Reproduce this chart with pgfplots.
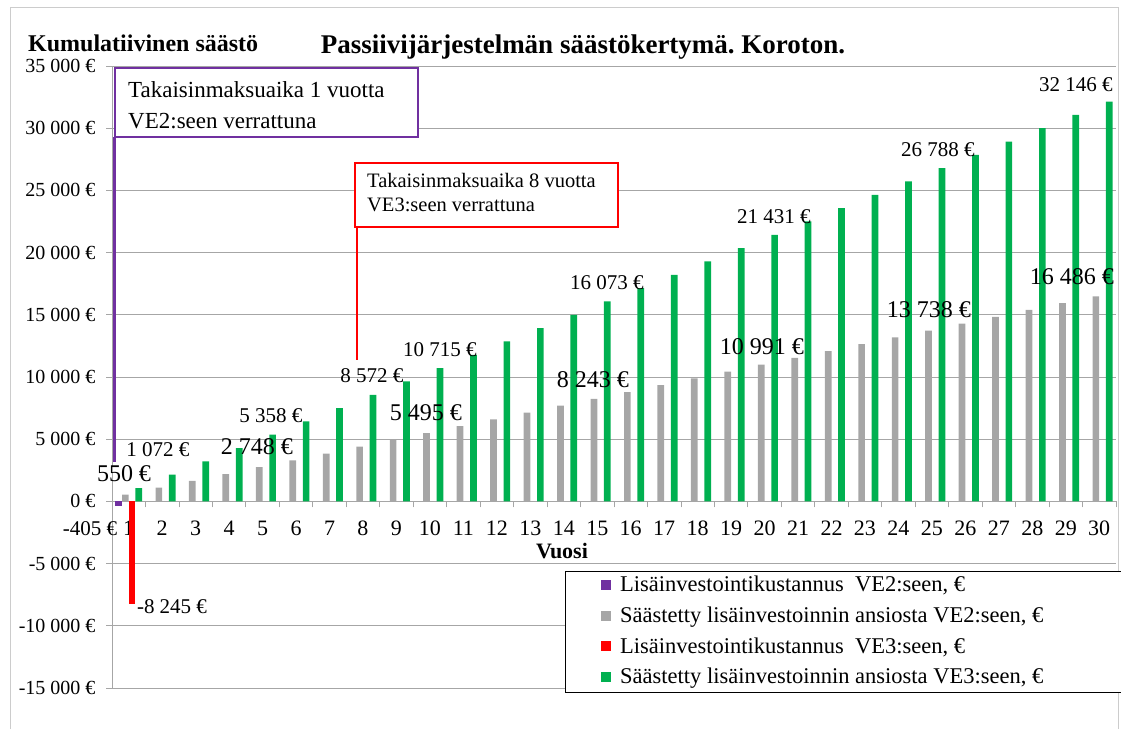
\documentclass[border=0pt]{standalone}
\usepackage{pgfplots}
\usepackage{pgfplotstable}
\pgfplotsset{compat=1.18}
\usepackage{fontspec}
\setmainfont{Liberation Serif}
\frenchspacing

\definecolor{ve2cost}{HTML}{7030A0}
\definecolor{ve2save}{HTML}{A6A6A6}
\definecolor{ve3cost}{HTML}{FF0000}
\definecolor{ve3save}{HTML}{00B050}
\definecolor{gridgray}{HTML}{A6A6A6}
\newcommand{\setsz}[2]{\rmfamily\fontsize{#1}{#2}\selectfont}

% cumulative savings per year (VE2 / VE3)
\pgfplotstableread{
year ve2 ve3
1 550 1072
2 1099 2143
3 1649 3215
4 2198 4286
5 2748 5358
6 3297 6429
7 3847 7501
8 4396 8572
9 4946 9644
10 5495 10715
11 6045 11787
12 6594 12858
13 7144 13930
14 7693 15001
15 8243 16073
16 8792 17145
17 9342 18216
18 9891 19288
19 10441 20359
20 10991 21431
21 11540 22502
22 12090 23574
23 12639 24645
24 13189 25717
25 13738 26788
26 14288 27860
27 14837 28931
28 15387 30003
29 15936 31074
30 16486 32146
}\savings

\begin{document}
\begin{tikzpicture}
\useasboundingbox (0pt,0pt) rectangle (1121pt,729pt);
\draw[gray!40, line width=1pt] (10pt,0pt) -- (10pt,721pt) -- (1118pt,721pt) -- (1118pt,0pt);
\begin{axis}[
  at={(112pt,41pt)}, anchor=south west,
  scale only axis, width=1004pt, height=622pt,
  xmin=0.5, xmax=30.5, ymin=-15000, ymax=35000,
  axis x line*=middle, axis y line*=left,
  axis line style={gridgray, line width=0.8pt},
  ybar=0pt, bar width=0.2,
  xtick={1,...,30},
  minor xtick={0.5,1.5,...,30.5},
  major x tick style={draw=none},
  minor x tick style={gridgray, line width=0.8pt},
  ytick={-15000,-10000,...,35000},
  scaled y ticks=false,
  yticklabels={-15 000 €,-10 000 €,-5 000 €,0 €,5 000 €,10 000 €,15 000 €,20 000 €,25 000 €,30 000 €,35 000 €},
  y tick style={gridgray, line width=0.8pt},
  tick align=outside,
  major tick length=6pt, minor tick length=6pt,
  ymajorgrids, grid style={gridgray, line width=0.8pt},
  xticklabel style={font=\setsz{22}{24}, /pgf/number format/assume math mode=true},
  xticklabel shift=10pt,
  yticklabel style={font=\setsz{20}{22}},
  yticklabel shift=7pt,
  legend style={at={(rel axis cs:0.487,0.183)}, anchor=north west, draw=none, fill=none,
    font=\setsz{22.5}{24}, inner sep=0pt, row sep=9.5pt, nodes={inner sep=2pt}},
  legend cell align=left,
  legend image code/.code={\fill[#1] (0pt,-5pt) rectangle (10pt,5pt); \path (17pt,0pt);},
  clip=false,
]
\addplot[fill=ve2cost, draw=none, bar shift=-0.3] coordinates {(1,-405)};
\addlegendentry{Lisäinvestointikustannus\ \ VE2:seen, €}
\addplot[fill=ve2save, draw=none, bar shift=-0.1] table[x=year,y=ve2]{\savings};
\addlegendentry{Säästetty lisäinvestoinnin ansiosta VE2:seen, €}
\addplot[fill=ve3cost, draw=none, bar shift=0.1] coordinates {(1,-8245)};
\addlegendentry{Lisäinvestointikustannus\ \ VE3:seen, €}
\addplot[fill=ve3save, draw=none, bar shift=0.3] table[x=year,y=ve3]{\savings};
\addlegendentry{Säästetty lisäinvestoinnin ansiosta VE3:seen, €}

% legend frame
\draw[black, line width=1pt, fill=white] (rel axis cs:0.452,0.188) rectangle (rel axis cs:1.006,-0.008);

% data labels
\tikzset{sm/.style={font=\setsz{21}{23}, inner sep=0pt}, lg/.style={font=\setsz{24}{26}, inner sep=0pt}}
\node[lg] at (axis cs:0.859,2203) {550 €};
\node[sm] at (axis cs:1.874,4132) {1 072 €};
\node[lg] at (axis cs:4.832,4373) {2 748 €};
\node[sm] at (axis cs:5.251,6865) {5 358 €};
\node[sm] at (axis cs:8.268,10081) {8 572 €};
\node[sm] at (axis cs:10.30,12171) {10 715 €};
\node[lg] at (axis cs:9.882,7106) {5 495 €};
\node[sm] at (axis cs:15.29,17557) {16 073 €};
\node[lg] at (axis cs:14.87,9759) {8 243 €};
\node[sm] at (axis cs:20.28,22863) {21 431 €};
\node[lg] at (axis cs:19.92,12412) {10 991 €};
\node[sm] at (axis cs:25.18,28249) {26 788 €};
\node[lg] at (axis cs:24.91,15387) {13 738 €};
\node[sm] at (axis cs:29.30,33474) {32 146 €};
\node[lg] at (axis cs:29.18,18040) {16 486 €};
\node[sm] at (axis cs:2.293,-8489) {-8 245 €};
\node[sm] at (axis cs:-0.157,-2219) {-405 €};

% payback annotations
\draw[ve2cost, line width=2.5pt] (axis cs:0.57,29294) -- (axis cs:0.57,3167);
\draw[ve2cost, line width=2.5pt, fill=white] (axis cs:0.59,34841) rectangle (axis cs:9.643,29294);
\node[anchor=west, inner sep=0pt, font=\setsz{23}{25}] at (axis cs:0.978,33073) {Takaisinmaksuaika 1 vuotta};
\node[anchor=west, inner sep=0pt, font=\setsz{23}{25}] at (axis cs:0.978,30581) {VE2:seen verrattuna};
\draw[ve3cost, line width=2.5pt] (axis cs:7.82,22059) -- (axis cs:7.82,11367);
\draw[ve3cost, line width=2.5pt, fill=white] (axis cs:7.76,27204) rectangle (axis cs:15.618,22059);
\node[anchor=west, inner sep=0pt, font=\setsz{20.5}{23}] at (axis cs:8.119,25757) {Takaisinmaksuaika 8 vuotta};
\node[anchor=west, inner sep=0pt, font=\setsz{20.5}{23}] at (axis cs:8.119,23828) {VE3:seen verrattuna};
\end{axis}
\node[font=\bfseries\setsz{27}{29}] at (583pt,682pt) {Passiivijärjestelmän säästökertymä. Koroton.};
\node[font=\bfseries\setsz{24}{26}, anchor=west, inner sep=0pt] at (28pt,686pt) {Kumulatiivinen säästö};
\node[font=\bfseries\setsz{22}{24}] at (562pt,178pt) {Vuosi};
\end{tikzpicture}
\end{document}
